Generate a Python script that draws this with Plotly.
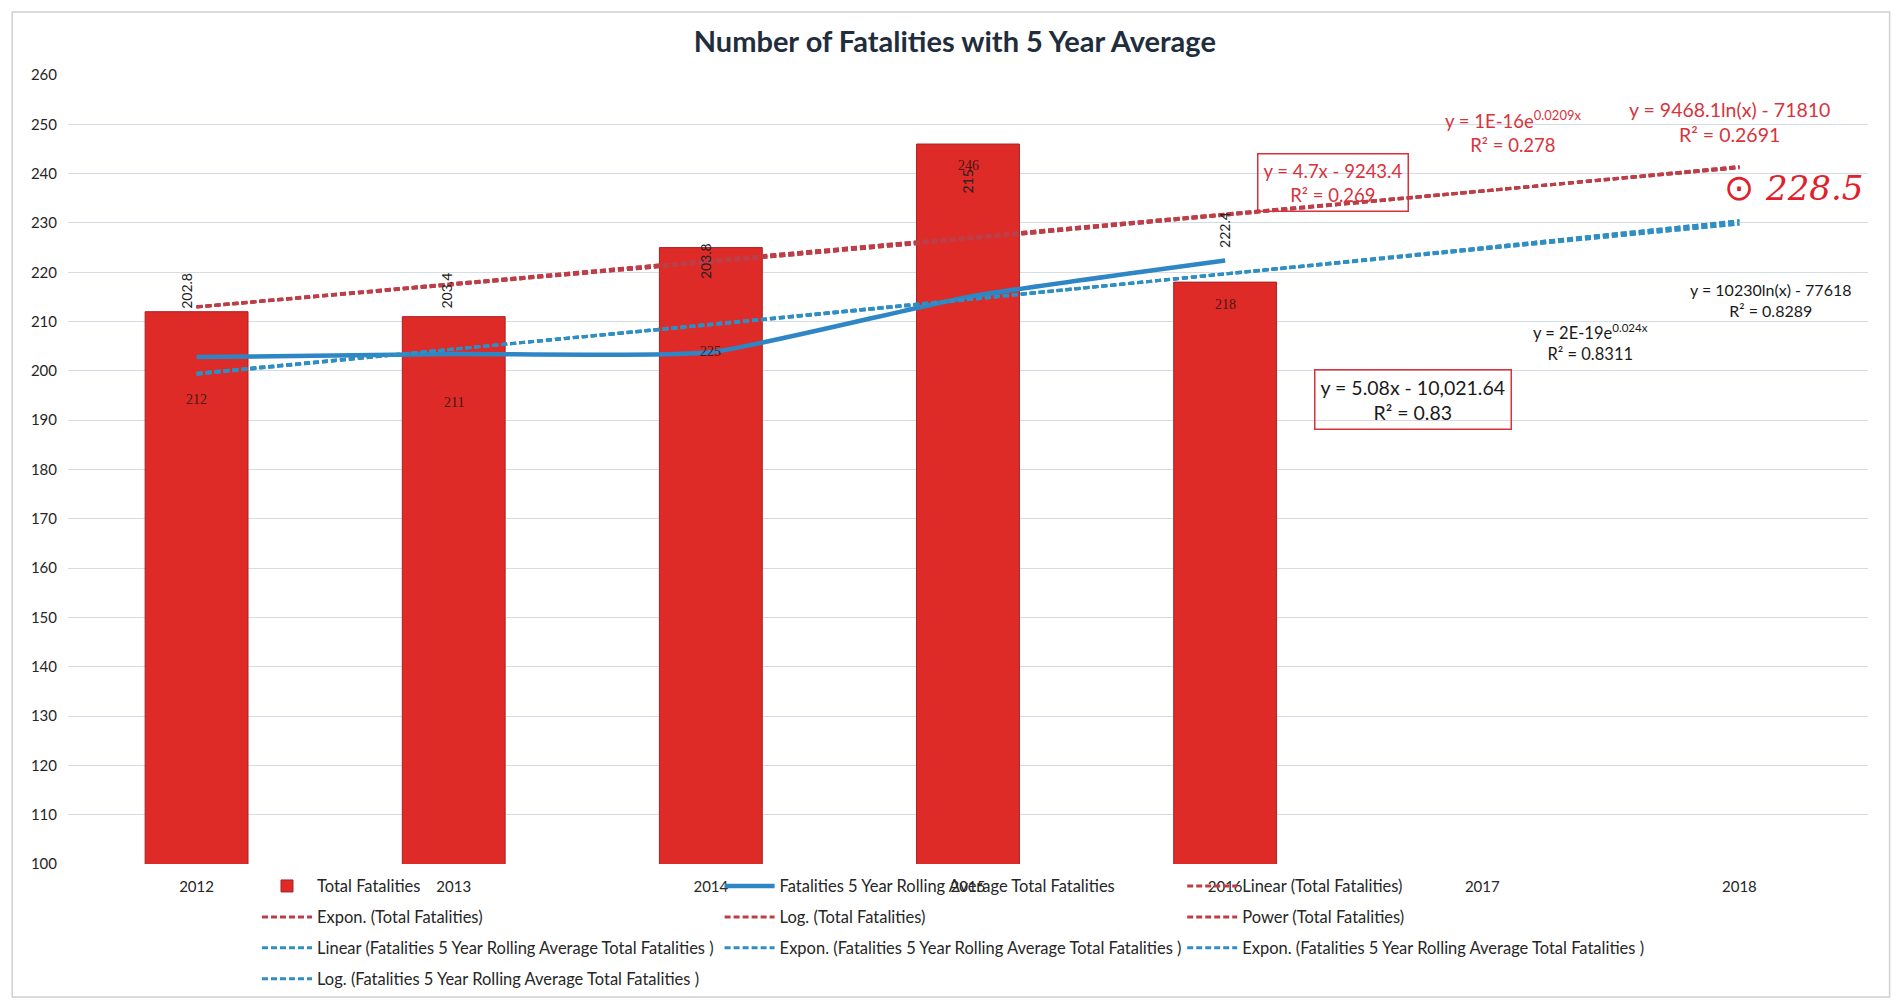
import numpy as np
import plotly.graph_objects as go

# ---------------- data ----------------
years_all = [2012, 2013, 2014, 2015, 2016, 2017, 2018]
years = [2012, 2013, 2014, 2015, 2016]
total_fatalities = [212, 211, 225, 246, 218]
rolling_avg = [202.8, 203.4, 203.8, 215.0, 222.4]
rolling_labels = ["202.8", "203.4", "203.8", "215", "222.4"]
tick_vals = [100, 110, 120, 130, 140, 150, 160, 170, 180, 190, 200, 210, 220, 230, 240, 250, 260]

# ---------------- trendlines (least-squares fits of the data, forecast to 2018) ----------------
x = np.array(years, dtype=float)
xf = np.array(years_all, dtype=float)


def fit_linear(y):
    a, b = np.polyfit(x, y, 1)
    return a * xf + b


def fit_expon(y):
    a, b = np.polyfit(x, np.log(y), 1)
    return np.exp(b) * np.exp(a * xf)


def fit_log(y):
    a, b = np.polyfit(np.log(x), y, 1)
    return a * np.log(xf) + b


def fit_power(y):
    a, b = np.polyfit(np.log(x), np.log(y), 1)
    return np.exp(b) * xf ** a


tf = np.array(total_fatalities, dtype=float)
ra = np.array(rolling_avg, dtype=float)

FONT = "Lato, Calibri, Carlito, sans-serif"
RED_BAR = "#DE2B27"
RED_DASH = "#BE3E48"
BLUE = "#2E86C5"
BLUE_DASH = "#2F8FC4"

fig = go.Figure()

fig.add_trace(go.Bar(
    x=years, y=total_fatalities, name="Total Fatalities", width=0.4,
    marker=dict(color=RED_BAR, line=dict(color="#A82222", width=1)),
    legend="legend", legendgroup="g1", hoverinfo="x+y",
))
fig.add_trace(go.Scatter(
    x=years, y=rolling_avg, mode="lines",
    line=dict(color=BLUE, width=4.5, shape="spline", smoothing=0.5),
    name="Fatalities 5 Year Rolling Average Total Fatalities",
    legend="legend2", legendgroup="g2",
))

red_trends = [
    ("Linear (Total Fatalities)", fit_linear(tf), "legend3", "g3"),
    ("Expon. (Total Fatalities)", fit_expon(tf), "legend", "g4"),
    ("Log. (Total Fatalities)", fit_log(tf), "legend2", "g5"),
    ("Power (Total Fatalities)", fit_power(tf), "legend3", "g6"),
]
for name, yv, lg, grp in red_trends:
    fig.add_trace(go.Scatter(
        x=years_all, y=yv, mode="lines", name=name,
        line=dict(color=RED_DASH, width=3, dash="6px,3px"),
        legend=lg, legendgroup=grp,
    ))

blue_trends = [
    ("Linear (Fatalities 5 Year Rolling Average Total Fatalities )", fit_linear(ra), "legend", "g7"),
    ("Expon. (Fatalities 5 Year Rolling Average Total Fatalities )", fit_expon(ra), "legend2", "g8"),
    ("Expon. (Fatalities 5 Year Rolling Average Total Fatalities )", fit_expon(ra), "legend3", "g9"),
    ("Log. (Fatalities 5 Year Rolling Average Total Fatalities )", fit_log(ra), "legend", "g10"),
]
for name, yv, lg, grp in blue_trends:
    fig.add_trace(go.Scatter(
        x=years_all, y=yv, mode="lines", name=name,
        line=dict(color=BLUE_DASH, width=3, dash="6px,3px"),
        legend=lg, legendgroup=grp,
    ))

annotations = []
# bar value labels (positions as placed in the original chart)
bar_label_y = [194.1, 193.6, 203.9, 241.6, 213.5]
for xv, val, yl in zip(years, total_fatalities, bar_label_y):
    annotations.append(dict(x=xv, y=yl, xref="x", yref="y", text=str(val), showarrow=False,
                            font=dict(family="Liberation Serif, serif", size=14, color="#4A1515")))
# rotated rolling-average labels
roll_label_y = [216.3, 216.3, 222.2, 238.4, 228.6]
roll_label_dx = [-0.04, -0.03, -0.02, 0.0, 0.0]
for xv, lab, yl, dx in zip(years, rolling_labels, roll_label_y, roll_label_dx):
    annotations.append(dict(x=xv + dx, y=yl, xref="x", yref="y", text=lab, showarrow=False, textangle=-90,
                            font=dict(family=FONT, size=14, color="#222222")))

RED_TXT = "#D8333C"
eq = [
    (2016.42, 238.1, "y = 4.7x - 9243.4<br>R² = 0.269", RED_TXT, 18.5, RED_TXT),
    (2017.12, 248.5, "y = 1E-16e<sup>0.0209x</sup><br>R² = 0.278", RED_TXT, 18.5, None),
    (2017.96, 250.5, "y = 9468.1ln(x) - 71810<br>R² = 0.2691", RED_TXT, 19.5, None),
    (2016.73, 194.1, "y = 5.08x - 10,021.64<br>R² = 0.83", "#1A1A1A", 19.5, RED_TXT),
    (2017.42, 205.7, "y = 2E-19e<sup>0.024x</sup><br>R² = 0.8311", "#1A1A1A", 16.5, None),
    (2018.12, 214.4, "y = 10230ln(x) - 77618<br>R² = 0.8289", "#1A1A1A", 16, None),
]
for xv, yv, txt, col, sz, border in eq:
    a = dict(x=xv, y=yv, xref="x", yref="y", text=txt, showarrow=False, align="center",
             font=dict(family=FONT, size=sz, color=col))
    if border:
        a.update(bordercolor=border, borderwidth=1.5, borderpad=5)
    annotations.append(a)

# handwritten note
annotations.append(dict(x=2018.0, y=237.2, xref="x", yref="y", text="⊙", showarrow=False,
                        font=dict(family="DejaVu Sans, sans-serif", size=36, color="#E0202A")))
annotations.append(dict(x=2018.29, y=237.0, xref="x", yref="y", text="<i>228.5</i>", showarrow=False,
                        font=dict(family="DejaVu Serif, serif", size=34, color="#E0202A")))

legend_common = dict(orientation="v", bgcolor="rgba(0,0,0,0)", yanchor="top", xanchor="left",
                     font=dict(family=FONT, size=16.5, color="#262626"), itemwidth=50,
                     tracegroupgap=6.5, traceorder="grouped", itemclick=False)

fig.update_layout(
    width=1902, height=1002,
    margin=dict(l=68, r=34, t=75, b=138, autoexpand=False),
    paper_bgcolor="white", plot_bgcolor="white",
    title=dict(text="<b>Number of Fatalities with 5 Year Average</b>", x=0.502, xanchor="center",
               y=0.958, yanchor="middle", font=dict(family=FONT, size=29, color="#1F2D3D")),
    xaxis=dict(range=[2011.5, 2018.5], tickmode="array", tickvals=years_all,
               ticktext=[str(v) for v in years_all], showgrid=False, zeroline=False, showline=False,
               tickfont=dict(family=FONT, size=15, color="#262626"), ticklabelstandoff=12),
    yaxis=dict(range=[100, 260], tickmode="array", tickvals=tick_vals, showgrid=True,
               gridcolor="#D5DCE3", gridwidth=1, zeroline=False, showline=False,
               tickfont=dict(family=FONT, size=15, color="#262626"), ticklabelstandoff=10),
    barmode="overlay",
    legend=dict(x=0.105, y=-0.006, **legend_common),
    legend2=dict(x=0.362, y=-0.006, **legend_common),
    legend3=dict(x=0.619, y=-0.006, **legend_common),
    annotations=annotations,
    shapes=[dict(type="rect", xref="paper", yref="paper", x0=-0.031, x1=1.012, y0=-0.1686, y1=1.08,
                 line=dict(color="#D0D0D0", width=1.5), layer="below")],
    showlegend=True,
)

fig.write_html("out.html")
